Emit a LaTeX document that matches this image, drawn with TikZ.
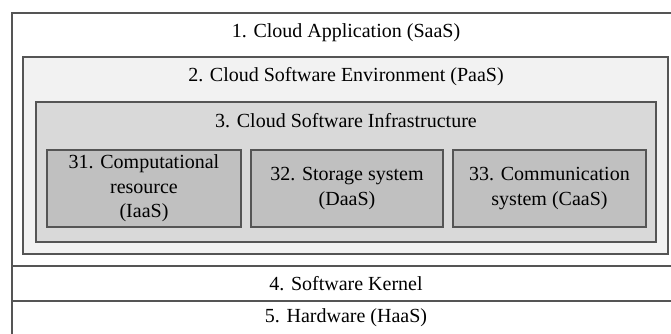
\documentclass[tikz,border=0pt]{standalone}
\usepackage{fontspec}
\setmainfont{Liberation Serif}
\definecolor{edge}{RGB}{85,85,85}
\definecolor{fillA}{RGB}{242,242,242}
\definecolor{fillB}{RGB}{217,217,217}
\definecolor{fillC}{RGB}{192,192,192}
\tikzset{
  layer/.style={draw=edge, line width=1.4pt, rectangle, anchor=north west, inner sep=0pt, outer sep=0pt},
  lbl/.style={font=\fontsize{20}{24.5}\selectfont, align=center, inner sep=0pt, text=black}
}
\begin{document}
\begin{tikzpicture}[x=1pt,y=-1pt]
\clip (0,0) rectangle (671,334);
\fill[white] (0,0) rectangle (671,334);
% layer 1
\node[layer, fill=white, minimum width=668pt, minimum height=253pt] (b1) at (12,13) {};
\node[lbl] (t1) at (346,33) {1. Cloud Application (SaaS)};
% layer 2
\node[layer, fill=fillA, minimum width=645pt, minimum height=197pt] (b2) at (23,57) {};
\node[lbl] (t2) at (346,77) {2. Cloud Software Environment (PaaS)};
% layer 3
\node[layer, fill=fillB, minimum width=620pt, minimum height=140pt] (b3) at (36,102) {};
\node[lbl] (t3) at (346,121) {3. Cloud Software Infrastructure};
% sub layers
\node[layer, fill=fillC, minimum width=194pt, minimum height=77pt] (b31) at (47,150) {};
\node[lbl] (t31) at (144,188.5) {31. Computational\\resource\\(IaaS)};
\node[layer, fill=fillC, minimum width=192pt, minimum height=77pt] (b32) at (251,150) {};
\node[lbl] (t32) at (347,188.5) {32. Storage system\\(DaaS)};
\node[layer, fill=fillC, minimum width=193pt, minimum height=77pt] (b33) at (453,150) {};
\node[lbl] (t33) at (549.5,188.5) {33. Communication\\system (CaaS)};
% layer 4
\node[layer, fill=white, minimum width=668pt, minimum height=35pt] (b4) at (12,266) {};
\node[lbl] (t4) at (346,284) {4. Software Kernel};
% layer 5
\node[layer, fill=white, minimum width=668pt, minimum height=50pt] (b5) at (12,301) {};
\node[lbl] (t5) at (346,318) {5. Hardware (HaaS)};
\end{tikzpicture}
\end{document}
